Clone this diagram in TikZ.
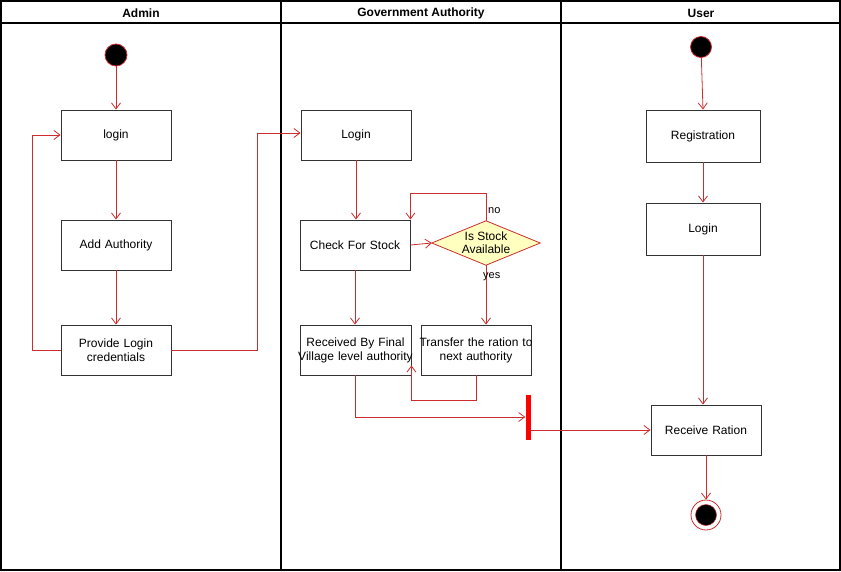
\documentclass[tikz,border=0pt]{standalone}
\usepackage{fontspec}
\setmainfont{Liberation Sans}
\usetikzlibrary{arrows.meta,calc,backgrounds}
\definecolor{linered}{RGB}{205,45,45}
\definecolor{decfill}{RGB}{255,255,192}
\newcommand\ovlline[1]{\hbox to\linewidth{\hss#1\hss}}
\begin{document}
\begin{tikzpicture}[x=1pt,y=-1pt,
  font=\fontsize{12}{14}\selectfont,
  act/.style={draw=black!80, line width=0.9pt, fill=white, text width=106pt, minimum height=50pt, inner sep=2pt, align=center},
  flow/.style={draw=linered, line width=0.8pt, -{Straight Barb[length=6pt,width=9pt]}},
  startnode/.style={circle, fill=black, draw=linered, line width=0.8pt, minimum size=22pt, inner sep=0pt},
  lane/.style={draw=black, line width=1.2pt},
  hdr/.style={font=\fontsize{12}{14}\selectfont\bfseries},
  lbl/.style={font=\fontsize{11}{13}\selectfont, inner sep=0pt}
]
\useasboundingbox (0,0) rectangle (841,571);
% lanes
\draw[lane] (1,1) rectangle (840,570);
\draw[lane] (1,23) -- (840,23);
\draw[lane] (281,1) -- (281,570);
\draw[lane] (561,1) -- (561,570);
\node[hdr] (h1) at (141,13) {Admin};
\node[hdr] (h2) at (421,13) {Government Authority};
\node[hdr] (h3) at (701,13) {User};

% Admin
\node[startnode] (as) at (116,55) {};
\node[act] (alogin) at (116,135) {login};
\node[act] (aadd) at (116,245) {Add Authority};
\node[act] (prov) at (116,350) {Provide Login\\credentials};

% Government
\node[act] (glogin) at (356,135) {Login};
\node[act] (check) at (355,245) {Check For Stock};
\node[minimum width=108pt, minimum height=44pt, inner sep=0pt, align=center, font=\fontsize{12}{13}\selectfont] (dec) at (486,243) {Is Stock\\Available};
\begin{scope}[on background layer]
\draw[draw=linered, line width=0.8pt, fill=decfill] (dec.north) -- (dec.east) -- (dec.south) -- (dec.west) -- cycle;
\end{scope}
\node[act, text width=107pt] (recv) at (355.5,350) {\ovlline{Received By Final}\\\ovlline{Village level authority}};
\node[act] (trans) at (476,350) {\ovlline{Transfer the ration to}\\\ovlline{next authority}};
\node[fill=red, minimum width=5pt, minimum height=45pt, inner sep=0pt] (bar) at (528,417) {};

% User
\node[startnode, minimum size=21pt] (us) at (701,47) {};
\node[act, text width=110pt, minimum height=52pt] (reg) at (703,136) {Registration};
\node[act, text width=110pt, minimum height=52pt] (ulogin) at (703,229) {Login};
\node[act] (rr) at (706,430) {Receive Ration};
\node[circle, draw=linered, fill=white, line width=0.8pt, minimum size=30pt, inner sep=0pt] (fin) at (706,515) {};
\node[circle, fill=black, draw=linered, line width=0.5pt, minimum size=21pt, inner sep=0pt] (finin) at (fin.center) {};

% helper coordinates
\coordinate (l1) at (32,0);
\coordinate (r1) at (257,0);
\coordinate (n1) at (0,193);
\coordinate (b1) at (0,400);
\coordinate (rcvin) at ($(recv.south east)+(0,-10)$);

% connectors
\draw[flow] (as) -- (alogin.north);
\draw[flow] (alogin) -- (aadd);
\draw[flow] (aadd) -- (prov);
\draw[flow] (prov.west) -- (prov.west -| l1) |- (alogin.west);
\draw[flow] (prov.east) -- (prov.east -| r1) |- ([yshift=2pt]glogin.west);
\draw[flow] (glogin) -- (glogin.south |- check.north);
\draw[flow] (check.east) -- (dec.west);
\draw[flow] (dec.north) -- (dec.north |- n1) -| (check.north east);
\draw[flow] (dec.south) -- (dec.south |- trans.north);
\draw[flow] (check.south) -- (check.south |- recv.north);
\draw[flow] (trans.south) -- (trans.south |- b1) -| (rcvin);
\draw[flow] (recv.south) |- (bar.west);
\draw[flow] (bar.east |- rr.west) -- (rr.west);
\draw[flow] (us) -- (reg.north);
\draw[flow] (reg) -- (ulogin);
\draw[flow] (ulogin.south) -- (ulogin.south |- rr.north);
\draw[flow] (rr.south) -- (fin.north);

\node[lbl, anchor=west] (tno) at (488,211) {no};
\node[lbl, anchor=west] (tyes) at (483,277) {yes};
\end{tikzpicture}
\end{document}
